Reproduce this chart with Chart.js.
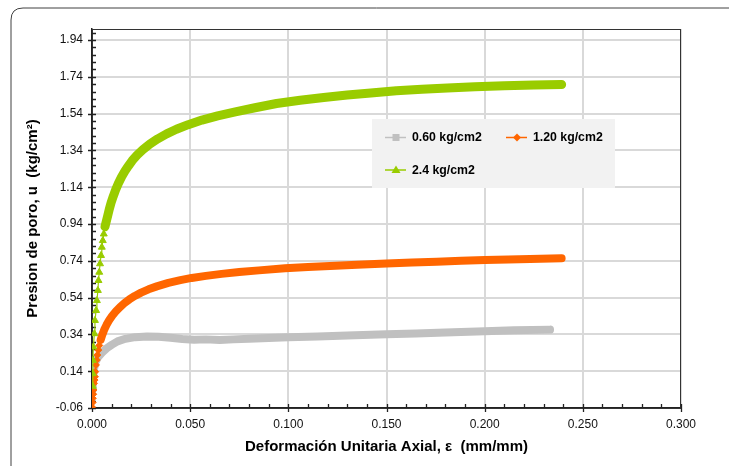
<!DOCTYPE html>
<html><head><meta charset="utf-8">
<script src="https://cdn.jsdelivr.net/npm/chart.js@4.4.1/dist/chart.umd.min.js"></script>
<style>html,body{margin:0;padding:0;background:#fff}#wrap{width:729px;height:466px}</style>
</head><body><div id="wrap"><canvas id="c" width="729" height="466"></canvas></div>
<script>
// ---- data ----
const seriesNames = ['0.60 kg/cm2', '1.20 kg/cm2', '2.4 kg/cm2'];
const xTickValues = [0, 0.05, 0.10, 0.15, 0.20, 0.25, 0.30];
const yTickValues = [-0.06, 0.14, 0.34, 0.54, 0.74, 0.94, 1.14, 1.34, 1.54, 1.74, 1.94];
const xAxisTitle = 'Deformación Unitaria Axial, ε  (mm/mm)';
const yAxisTitle = 'Presion de poro, u  (kg/cm²)';

const grayStrain   = [0.0000,0.0004,0.0010,0.0018,0.0030,0.0050,0.0075,0.0100,0.0130,0.0170,0.0220,0.0280,0.0340,0.0400,0.0460,0.0520,0.0580,0.0650,0.0720,0.0800,0.0900,0.1000,0.1150,0.1300,0.1500,0.1650,0.1800,0.2000,0.2150,0.2333];
const grayPressure = [0.040,0.100,0.150,0.190,0.215,0.240,0.265,0.283,0.302,0.316,0.325,0.328,0.327,0.322,0.315,0.311,0.313,0.310,0.313,0.317,0.321,0.324,0.329,0.334,0.341,0.345,0.350,0.357,0.362,0.366];

const orangeStrain   = [0.0000,0.0003,0.0004,0.0006,0.0007,0.0010,0.0013,0.0015,0.0016,0.0020,0.0024,0.0027,0.0032,0.0037,0.0044,0.0052,0.0062,0.0074,0.0088,0.0104,0.0122,0.0142,0.0165,0.0190,0.0218,0.0250,0.0288,0.0330,0.0389,0.0450,0.0508,0.0580,0.0660,0.0750,0.0850,0.0983,0.1100,0.1212,0.1350,0.1500,0.1630,0.1756,0.1880,0.2002,0.2120,0.2231,0.2392];
const orangePressure = [-0.055,-0.030,-0.007,0.015,0.038,0.074,0.092,0.110,0.137,0.174,0.201,0.228,0.255,0.280,0.310,0.337,0.365,0.392,0.418,0.443,0.466,0.488,0.510,0.530,0.549,0.567,0.585,0.601,0.620,0.635,0.647,0.658,0.669,0.679,0.688,0.699,0.706,0.712,0.719,0.726,0.731,0.735,0.740,0.744,0.747,0.750,0.754];

const greenStrain   = [0.0004,0.0004,0.0005,0.0007,0.0012,0.0015,0.0021,0.0025,0.0030,0.0033,0.0037,0.0041,0.0046,0.0050,0.0055,0.0060,0.0066,0.0073,0.0080,0.0088,0.0097,0.0108,0.0120,0.0134,0.0151,0.0168,0.0185,0.0205,0.0230,0.0260,0.0295,0.0335,0.0380,0.0430,0.0490,0.0560,0.0640,0.0730,0.0830,0.0940,0.1060,0.1180,0.1300,0.1420,0.1550,0.1680,0.1810,0.1950,0.2100,0.2250,0.2392];
const greenPressure = [0.058,0.127,0.199,0.272,0.344,0.416,0.470,0.524,0.579,0.633,0.678,0.724,0.769,0.814,0.850,0.886,0.925,0.955,0.985,1.020,1.055,1.090,1.125,1.160,1.197,1.228,1.255,1.285,1.315,1.345,1.375,1.403,1.430,1.455,1.480,1.505,1.528,1.550,1.572,1.595,1.613,1.628,1.641,1.652,1.664,1.672,1.679,1.686,1.691,1.695,1.698];

// ---- styling ----
const FONT = '"Liberation Sans", Arial, sans-serif';
const COLORS = ['#c0c0c0', '#ff6600', '#99cc00'];
const STYLES = ['rect', 'rectRot', 'triangle'];
const RADII = [3.5, 3.5, 4];
const BAND_WIDTH = [8, 8, 9];
const BAND_FROM = [0.0, 0.0044, 0.0066]; // strain after which markers merge into a band

function toPoints(xs, ys) { return xs.map((x, i) => ({x, y: ys[i]})); }

function makeDataset(i, xs, ys, order) {
  return {
    label: seriesNames[i],
    data: toPoints(xs, ys),
    showLine: true,
    borderColor: COLORS[i],
    backgroundColor: COLORS[i],
    pointStyle: STYLES[i],
    pointBorderColor: COLORS[i],
    pointBackgroundColor: COLORS[i],
    pointBorderWidth: 1,
    pointRadius: ctx => (ctx.raw && ctx.raw.x < BAND_FROM[i]) ? RADII[i] : 0,
    pointHoverRadius: 0,
    borderWidth: BAND_WIDTH[i],
    borderCapStyle: 'round',
    borderJoinStyle: 'round',
    segment: { borderWidth: ctx => (ctx.p0.parsed.x >= BAND_FROM[i] ? BAND_WIDTH[i] : 1.2) },
    order: order
  };
}

const chromePlugin = {
  id: 'chrome',
  beforeDraw(chart) {
    const ctx = chart.ctx;
    ctx.save();
    ctx.fillStyle = '#fff';
    ctx.fillRect(0, 0, chart.width, chart.height);
    const x = 11, y = 8, w = 760, h = 500, r = 12;
    ctx.beginPath();
    ctx.moveTo(x + r, y);
    ctx.lineTo(x + w, y);
    ctx.lineTo(x + w, y + h);
    ctx.lineTo(x, y + h);
    ctx.lineTo(x, y + r);
    ctx.quadraticCurveTo(x, y, x + r, y);
    ctx.strokeStyle = '#404040';
    ctx.lineWidth = 1;
    ctx.stroke();
    ctx.restore();
  },
  beforeDatasetsDraw(chart) {
    const ctx = chart.ctx, a = chart.chartArea;
    const xs = chart.scales.x, ys = chart.scales.y;
    ctx.save();
    ctx.strokeStyle = '#333';
    ctx.lineWidth = 1;
    ctx.strokeRect(a.left + 0.5, a.top + 0.5, a.right - a.left - 1, a.bottom - a.top);
    ctx.strokeStyle = '#222';
    ctx.lineWidth = 1.3;
    ctx.beginPath();
    for (let k = 0; k <= 51; k++) {
      const v = -0.06 + k * 0.04;
      const py = Math.round(ys.getPixelForValue(v)) + 0.5;
      if (k % 5 === 0) { ctx.moveTo(a.left - 4, py); ctx.lineTo(a.left + 4, py); }
      else { ctx.moveTo(a.left, py); ctx.lineTo(a.left + 4, py); }
    }
    for (let k = 0; k <= 30; k++) {
      const px = Math.round(xs.getPixelForValue(k * 0.01)) + 0.5;
      if (k % 5 === 0) { ctx.moveTo(px, a.bottom + 4); ctx.lineTo(px, a.bottom - 4); }
      else { ctx.moveTo(px, a.bottom); ctx.lineTo(px, a.bottom - 4); }
    }
    ctx.stroke();
    ctx.restore();
  },
  afterDraw(chart) {
    const ctx = chart.ctx, a = chart.chartArea;
    const lx = a.left + 280, ly = a.top + 90;
    ctx.save();
    ctx.fillStyle = '#f2f2f2';
    ctx.fillRect(lx, ly, 243, 69);
    const items = [
      {i: 0, x: lx + 13, y: ly + 18.5},
      {i: 1, x: lx + 134, y: ly + 18.5},
      {i: 2, x: lx + 13, y: ly + 51}
    ];
    items.forEach(it => {
      const c = COLORS[it.i];
      ctx.strokeStyle = c; ctx.fillStyle = c; ctx.lineWidth = 1.5;
      ctx.beginPath(); ctx.moveTo(it.x, it.y); ctx.lineTo(it.x + 21, it.y); ctx.stroke();
      const mx = it.x + 11, my = it.y;
      ctx.beginPath();
      if (STYLES[it.i] === 'rect') { ctx.rect(mx - 3.5, my - 3.5, 7, 7); }
      else if (STYLES[it.i] === 'rectRot') { ctx.moveTo(mx, my - 4); ctx.lineTo(mx + 4, my); ctx.lineTo(mx, my + 4); ctx.lineTo(mx - 4, my); ctx.closePath(); }
      else { ctx.moveTo(mx, my - 4.5); ctx.lineTo(mx + 4.5, my + 3); ctx.lineTo(mx - 4.5, my + 3); ctx.closePath(); }
      ctx.fill();
      ctx.fillStyle = '#000';
      ctx.font = 'bold 12.3px ' + FONT;
      ctx.textBaseline = 'middle';
      ctx.fillText(seriesNames[it.i], it.x + 27, it.y + 0.5);
    });
    ctx.restore();
  }
};

new Chart(document.getElementById('c'), {
  type: 'scatter',
  data: {
    datasets: [
      makeDataset(0, grayStrain, grayPressure, 2),
      makeDataset(1, orangeStrain, orangePressure, 1),
      makeDataset(2, greenStrain, greenPressure, 0)
    ]
  },
  options: {
    responsive: false,
    animation: false,
    devicePixelRatio: 1,
    layout: { padding: { left: 0, top: 29, right: 48, bottom: 0 } },
    plugins: { legend: { display: false }, tooltip: { enabled: false } },
    scales: {
      x: {
        type: 'linear', min: 0, max: 0.3,
        afterBuildTicks: s => { s.ticks = xTickValues.map(v => ({value: v})); },
        afterFit: s => { s.height = 58; },
        ticks: { callback: v => Number(v).toFixed(3), font: {family: FONT, size: 12}, color: '#111', padding: 9, maxRotation: 0 },
        grid: { color: '#d9d9d9', lineWidth: 2, drawTicks: false },
        border: { display: true, color: '#222', width: 1.5 },
        title: { display: true, text: xAxisTitle, font: {family: FONT, size: 15, weight: 'bold'}, color: '#000', padding: {top: 0, bottom: 10} }
      },
      y: {
        type: 'linear', min: -0.06, max: 2.0,
        afterBuildTicks: s => { s.ticks = yTickValues.map(v => ({value: v})); },
        afterFit: s => { s.width = 92; },
        ticks: { callback: v => Number(v).toFixed(2), font: {family: FONT, size: 12}, color: '#111', padding: 9 },
        grid: { color: '#d9d9d9', lineWidth: 2, drawTicks: false },
        border: { display: true, color: '#222', width: 1.5 },
        title: { display: true, text: yAxisTitle, font: {family: FONT, size: 15, weight: 'bold'}, color: '#000', padding: {top: 24, bottom: 0} }
      }
    }
  },
  plugins: [chromePlugin]
});
</script>
</body></html>
